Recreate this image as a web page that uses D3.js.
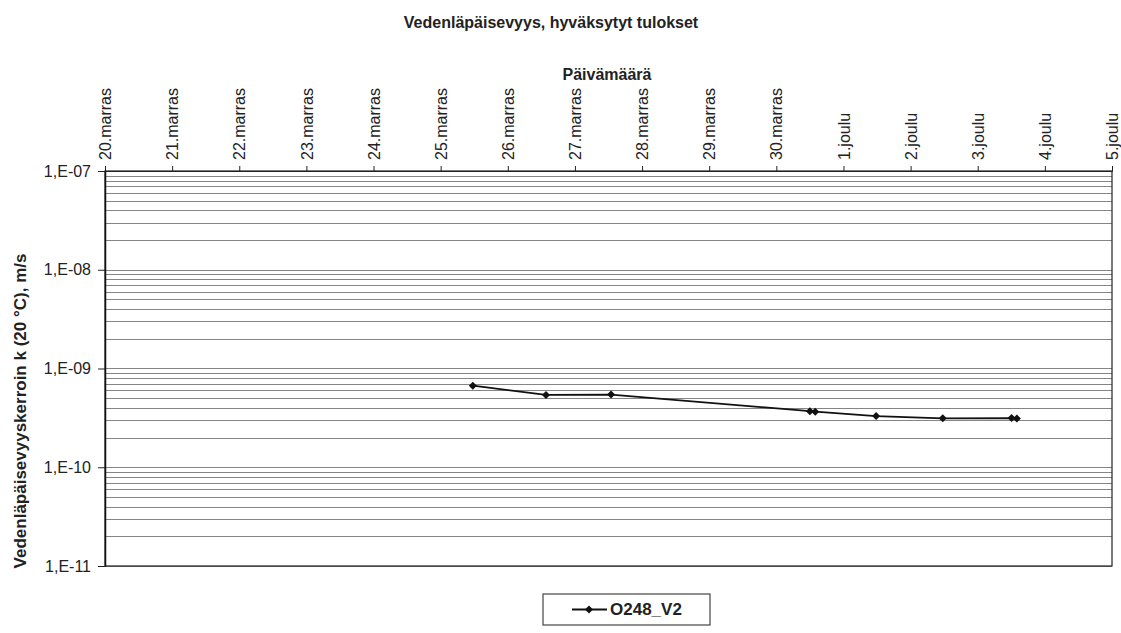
<!DOCTYPE html>
<html>
<head>
  <meta charset="UTF-8">
  <title>Vedenläpäisevyys</title>
  <script src="https://cdn.jsdelivr.net/npm/d3@7"></script>
  <style>
    body { margin: 0; background: #fff; }
    text { font-family: "Liberation Sans", Arial, sans-serif; fill: #222; }
  </style>
</head>
<body>
<script>
  // data
  var seriesName = "O248_V2";
  var times = ["2004-11-25 11:30", "2004-11-26 13:40", "2004-11-27 12:55",
               "2004-11-30 12:00", "2004-11-30 13:55", "2004-12-01 11:40",
               "2004-12-02 11:30", "2004-12-03 12:05", "2004-12-03 14:00"];
  var kValues = [6.7e-10, 5.4e-10, 5.45e-10, 3.7e-10, 3.65e-10, 3.3e-10, 3.13e-10, 3.15e-10, 3.12e-10];
  var xDomain = ["2004-11-20 00:00", "2004-12-05 00:00"];
  var yDomain = [1e-11, 1e-7];
  var yTicks = [1e-7, 1e-8, 1e-9, 1e-10, 1e-11];
  var monthNames = ["tammi", "helmi", "maalis", "huhti", "touko", "kesä",
                    "heinä", "elo", "syys", "loka", "marras", "joulu"];

  var width = 1121, height = 633;
  var plotLeft = 105, plotRight = 1112, plotTop = 171, plotBottom = 566;
  var parse = d3.timeParse("%Y-%m-%d %H:%M");

  var data = times.map(function (t, i) {
    return { date: parse(t), k: kValues[i] };
  });

  var x = d3.scaleTime().domain(xDomain.map(parse)).range([plotLeft, plotRight]);
  var y = d3.scaleLog().domain(yDomain).range([plotBottom, plotTop]);

  var svg = d3.select("body").append("svg")
    .attr("width", width)
    .attr("height", height);

  svg.append("rect").attr("width", width).attr("height", height).attr("fill", "#fff");

  // minor gridlines 1..9 per decade
  var grid = [];
  for (var e = -11; e < -7; e++) {
    for (var m = 1; m < 10; m++) grid.push(m * Math.pow(10, e));
  }
  grid.push(1e-7);

  svg.append("g").selectAll("line")
    .data(grid)
    .enter().append("line")
    .attr("x1", plotLeft).attr("x2", plotRight)
    .attr("y1", function (d) { return Math.round(y(d)) + 0.5; })
    .attr("y2", function (d) { return Math.round(y(d)) + 0.5; })
    .attr("stroke", "#858585")
    .attr("stroke-width", 1);

  // plot border
  svg.append("rect")
    .attr("x", plotLeft).attr("y", plotTop)
    .attr("width", plotRight - plotLeft).attr("height", plotBottom - plotTop)
    .attr("fill", "none").attr("stroke", "#222").attr("stroke-width", 1.2);

  var xAxis = svg.append("g")
    .attr("transform", "translate(0," + plotTop + ")")
    .call(d3.axisTop(x)
      .ticks(d3.timeDay.every(1))
      .tickSizeOuter(0)
      .tickSize(5)
      .tickFormat(function (d) { return d.getDate() + "." + monthNames[d.getMonth()]; }));
  xAxis.select(".domain").attr("stroke", "#222");
  xAxis.selectAll(".tick line").attr("stroke", "#222");
  xAxis.selectAll("text")
    .attr("transform", "rotate(-90)")
    .attr("x", 11).attr("y", 0).attr("dy", "0.35em")
    .style("text-anchor", "start")
    .style("font-size", "16px")
    .attr("fill", "#333");

  var yAxis = svg.append("g")
    .attr("transform", "translate(" + plotLeft + ",0)")
    .call(d3.axisLeft(y)
      .tickValues(yTicks)
      .tickSize(7)
      .tickSizeOuter(0)
      .tickFormat(function (d) {
        var ex = Math.round(Math.log10(d));
        return "1,E-" + String(-ex).padStart(2, "0");
      }));
  yAxis.select(".domain").attr("stroke", "#111").attr("stroke-width", 1.5);
  yAxis.selectAll(".tick line").attr("stroke", "#222");
  yAxis.selectAll("text").attr("x", -14).style("font-size", "16px").attr("fill", "#333");

  // series line and diamond markers
  var line = d3.line()
    .x(function (d) { return x(d.date); })
    .y(function (d) { return y(d.k); });

  svg.append("path")
    .datum(data)
    .attr("d", line)
    .attr("fill", "none")
    .attr("stroke", "#111")
    .attr("stroke-width", 1.8);

  var diamond = d3.symbol().type(d3.symbolSquare).size(32);

  svg.append("g").selectAll("path")
    .data(data)
    .enter().append("path")
    .attr("d", diamond)
    .attr("transform", function (d) {
      return "translate(" + x(d.date) + "," + y(d.k) + ") rotate(45)";
    })
    .attr("fill", "#111");

  // titles
  svg.append("text")
    .attr("x", 551).attr("y", 28)
    .attr("text-anchor", "middle")
    .style("font-size", "16px").style("font-weight", "bold")
    .text("Vedenläpäisevyys, hyväksytyt tulokset");

  svg.append("text")
    .attr("x", 607).attr("y", 80)
    .attr("text-anchor", "middle")
    .style("font-size", "16px").style("font-weight", "bold")
    .text("Päivämäärä");

  svg.append("text")
    .attr("transform", "translate(26,411) rotate(-90)")
    .attr("text-anchor", "middle")
    .style("font-size", "17px").style("font-weight", "bold")
    .text("Vedenläpäisevyyskerroin k (20 °C), m/s");

  // legend
  var legend = svg.append("g");
  legend.append("rect")
    .attr("x", 543).attr("y", 594)
    .attr("width", 167).attr("height", 31)
    .attr("fill", "#fff").attr("stroke", "#444").attr("stroke-width", 1.2);
  legend.append("line")
    .attr("x1", 572).attr("x2", 607)
    .attr("y1", 609.5).attr("y2", 609.5)
    .attr("stroke", "#111").attr("stroke-width", 1.8);
  legend.append("path")
    .attr("d", diamond)
    .attr("transform", "translate(589,609.5) rotate(45)")
    .attr("fill", "#111");
  legend.append("text")
    .attr("x", 610).attr("y", 609.5).attr("dy", "0.35em")
    .style("font-size", "17px").style("font-weight", "bold")
    .text(seriesName);
</script>
</body>
</html>
